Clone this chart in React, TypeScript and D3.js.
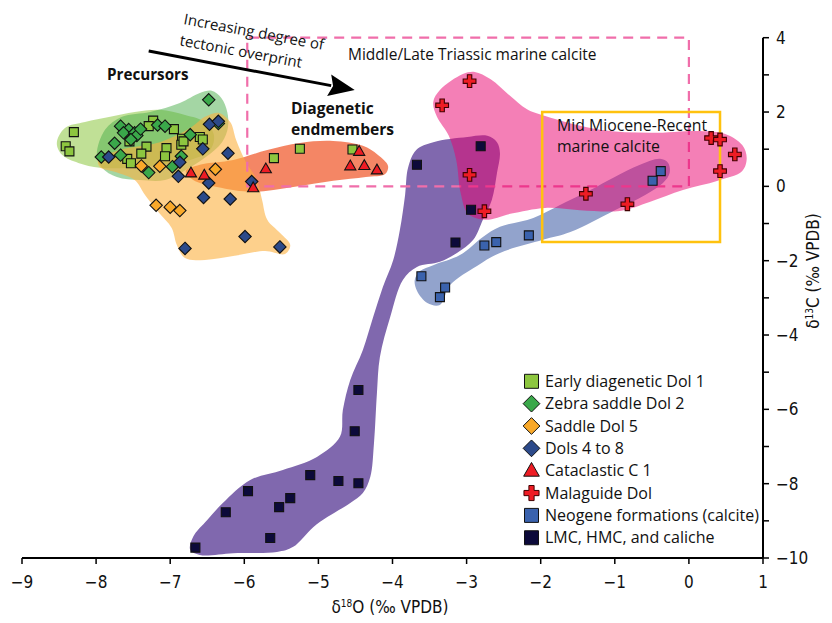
import React from 'react';
import * as d3 from 'd3';

const W = 832, H = 623;
const xTickValues = [-9, -8, -7, -6, -5, -4, -3, -2, -1, 0, 1];
const yTickValues = [4, 3, 2, 1, 0, -1, -2, -3, -4, -5, -6, -7, -8, -9, -10];
const yTickLabels = [4, 2, 0, -2, -4, -6, -8, -10];

// Point data [δ18O, δ13C]
const earlyDol1 = [[-8.30,1.46],[-8.41,1.08],[-8.36,0.94],[-7.23,1.77],[-7.29,1.62],[-6.95,1.54],[-7.55,1.21],[-7.32,1.07],[-7.39,0.88],[-7.58,0.74],[-7.53,0.62],[-7.05,1.03],[-7.07,0.81],[-6.84,1.28],[-6.85,1.12],[-6.82,1.21],[-6.60,1.33],[-6.56,1.26],[-5.25,1.01],[-5.60,0.76],[-4.54,0.99]];
const zebraDol2 = [[-7.67,1.62],[-7.56,1.53],[-7.63,1.44],[-7.48,1.44],[-7.45,1.37],[-7.40,1.54],[-7.53,1.26],[-7.75,1.16],[-7.93,0.79],[-7.67,0.84],[-7.29,0.37],[-7.17,1.65],[-7.07,1.62],[-6.73,1.39],[-6.48,2.33],[-6.35,1.69],[-6.85,0.81],[-6.97,0.53]];
const saddleDol5 = [[-7.39,0.55],[-7.14,0.54],[-6.39,0.46],[-7.19,-0.51],[-7.00,-0.56],[-6.87,-0.65]];
const dols4to8 = [[-7.83,0.79],[-6.87,0.65],[-6.89,0.27],[-6.56,1.01],[-6.47,1.67],[-6.35,1.75],[-6.22,0.89],[-6.48,0.09],[-6.55,-0.30],[-6.19,-0.34],[-5.90,0.13],[-5.99,-1.35],[-6.80,-1.67],[-5.52,-1.63]];
const cataclastic = [[-6.72,0.36],[-6.54,0.30],[-5.71,0.47],[-5.88,-0.04],[-4.45,0.94],[-4.57,0.55],[-4.38,0.56],[-4.21,0.44]];
const malaguide = [[-2.96,2.83],[-3.33,2.18],[-2.96,0.31],[-2.76,-0.67],[-1.39,-0.20],[-0.83,-0.48],[0.30,1.30],[0.42,1.26],[0.62,0.86],[0.42,0.41]];
const neogene = [[-3.61,-2.42],[-3.29,-2.72],[-3.36,-2.98],[-2.76,-1.59],[-2.60,-1.50],[-2.16,-1.32],[-0.38,0.41],[-0.49,0.15]];
const lmc = [[-2.81,1.08],[-3.67,0.58],[-2.94,-0.63],[-3.15,-1.51],[-4.46,-5.48],[-4.51,-6.59],[-5.11,-7.77],[-4.73,-7.93],[-4.46,-7.99],[-5.95,-8.20],[-5.38,-8.39],[-5.53,-8.63],[-6.25,-8.77],[-5.65,-9.46],[-6.66,-9.72]];

// Field outlines (data units)
const fieldDol1 = [[-8.53,1.17],[-8.42,1.57],[-8.15,1.73],[-7.81,1.87],[-7.48,2.00],[-7.14,2.06],[-6.80,1.92],[-6.53,1.73],[-6.41,1.38],[-6.46,0.98],[-6.73,0.71],[-7.14,0.58],[-7.54,0.50],[-7.95,0.50],[-8.24,0.63],[-8.46,0.85]];
const fieldZebra = [[-7.99,0.85],[-7.88,1.52],[-7.65,1.87],[-7.27,2.00],[-6.87,2.24],[-6.60,2.51],[-6.44,2.57],[-6.31,2.38],[-6.23,2.00],[-6.22,1.60],[-6.30,1.19],[-6.52,0.79],[-6.79,0.44],[-7.07,0.17],[-7.41,0.17],[-7.72,0.25],[-7.92,0.50]];
const fieldSaddle = [[-7.97,0.71],[-7.68,0.98],[-7.14,1.19],[-6.73,1.57],[-6.53,1.87],[-6.35,1.98],[-6.19,1.73],[-6.11,1.25],[-5.98,0.66],[-5.83,0.17],[-5.76,-0.37],[-5.69,-0.90],[-5.52,-1.25],[-5.38,-1.58],[-5.45,-1.82],[-5.72,-1.74],[-6.13,-1.87],[-6.53,-1.98],[-6.80,-1.93],[-6.91,-1.58],[-6.98,-1.12],[-7.16,-0.69],[-7.34,-0.23],[-7.48,0.17],[-7.75,0.39],[-7.95,0.52]];
const fieldCataclastic = [[-6.79,0.41],[-6.60,0.58],[-6.15,0.71],[-5.69,0.98],[-5.25,1.17],[-4.80,1.22],[-4.40,1.09],[-4.20,0.85],[-4.06,0.55],[-4.10,0.33],[-4.36,0.25],[-4.80,0.15],[-5.34,-0.02],[-5.88,-0.15],[-6.37,-0.02],[-6.69,0.17]];
const fieldMalaguide = [[-3.05,3.02],[-2.89,3.08],[-2.68,2.89],[-2.41,2.43],[-2.19,2.08],[-1.94,1.89],[-1.20,1.52],[-0.53,1.44],[0.15,1.49],[0.49,1.41],[0.72,1.11],[0.78,0.76],[0.72,0.41],[0.39,0.15],[-0.08,-0.10],[-0.53,-0.42],[-0.93,-0.66],[-1.47,-0.64],[-1.94,-0.58],[-2.41,-0.74],[-2.75,-0.90],[-2.98,-0.74],[-3.08,-0.18],[-3.14,0.71],[-3.24,1.36],[-3.40,1.87],[-3.45,2.27],[-3.36,2.59]];
const fieldLmc = [[-3.68,0.98],[-3.45,1.19],[-2.99,1.33],[-2.72,1.36],[-2.59,1.19],[-2.55,0.90],[-2.59,0.36],[-2.66,-0.37],[-2.78,-0.90],[-2.91,-1.44],[-3.13,-1.79],[-3.36,-2.03],[-3.67,-2.17],[-3.86,-2.52],[-4.03,-3.51],[-4.17,-4.59],[-4.21,-5.56],[-4.25,-6.91],[-4.30,-7.82],[-4.40,-8.25],[-4.57,-8.52],[-4.88,-8.90],[-5.07,-9.17],[-5.34,-9.70],[-5.56,-9.84],[-6.15,-9.87],[-6.60,-9.92],[-6.73,-9.78],[-6.69,-9.43],[-6.50,-8.98],[-6.29,-8.52],[-5.92,-7.90],[-5.48,-7.63],[-5.02,-7.28],[-4.71,-6.74],[-4.67,-6.02],[-4.57,-5.21],[-4.40,-4.40],[-4.26,-3.51],[-4.13,-2.71],[-3.99,-1.98],[-3.90,-1.17],[-3.83,-0.23],[-3.79,0.50]];
const fieldNeogene = [[-3.70,-2.52],[-3.63,-2.28],[-3.45,-2.12],[-3.09,-1.85],[-2.78,-1.36],[-2.55,-1.09],[-2.10,-0.85],[-1.74,-0.50],[-1.33,-0.10],[-1.02,0.23],[-0.66,0.58],[-0.39,0.74],[-0.28,0.63],[-0.26,0.36],[-0.35,0.09],[-0.59,-0.23],[-1.00,-0.64],[-1.60,-1.23],[-1.97,-1.44],[-2.55,-1.79],[-2.86,-2.14],[-3.22,-2.65],[-3.36,-3.19],[-3.53,-3.14],[-3.67,-2.81]];

const triassicBox = { x0: -5.96, x1: 0, y0: 0, y1: 4 };
const mioceneBox = { x0: -1.98, x1: 0.42, y0: -1.5, y1: 2 };
const arrowFrom = [-7.29, 3.64];
const arrowTo = [-4.51, 2.59];

const legendNames = ['Early diagenetic Dol 1', 'Zebra saddle Dol 2', 'Saddle Dol 5', 'Dols 4 to 8', 'Cataclastic C 1', 'Malaguide Dol', 'Neogene formations (calcite)', 'LMC, HMC, and caliche'];
const legendShapes = ['square', 'diamond', 'diamond', 'diamond', 'triangle', 'cross', 'square', 'square'];
const legendColors = ['#8dc63f', '#3aa84a', '#f9a92a', '#2c4a8a', '#ee1c24', '#ee1c24', '#3a62ad', '#0c0a3a'];

const x = d3.scaleLinear().domain([-9, 1]).range([22, 763]);
const y = d3.scaleLinear().domain([-10, 4]).range([558, 37.7]);

function shapePath(shape: string, cx: number, cy: number, s: number) {
  if (shape === 'square') {
    return `M${cx - s / 2},${cy - s / 2}h${s}v${s}h${-s}Z`;
  }
  if (shape === 'diamond') {
    const r = s * 0.62;
    return `M${cx},${cy - r}L${cx + r},${cy}L${cx},${cy + r}L${cx - r},${cy}Z`;
  }
  if (shape === 'triangle') {
    const w = s * 1.12, h = s * 0.98;
    return `M${cx},${cy - h * 0.6}L${cx + w / 2},${cy + h * 0.4}L${cx - w / 2},${cy + h * 0.4}Z`;
  }
  const a = s * 0.58, t = s * 0.2;
  return `M${cx - t},${cy - a}H${cx + t}V${cy - t}H${cx + a}V${cy + t}H${cx + t}V${cy + a}H${cx - t}V${cy + t}H${cx - a}V${cy - t}H${cx - t}Z`;
}

const blob = d3.line<number[]>().x(d => x(d[0])).y(d => y(d[1])).curve(d3.curveCatmullRomClosed.alpha(0.5));

const series = [
  { data: earlyDol1, shape: 'square', color: legendColors[0], size: 9 },
  { data: zebraDol2, shape: 'diamond', color: legendColors[1], size: 10 },
  { data: saddleDol5, shape: 'diamond', color: legendColors[2], size: 10 },
  { data: dols4to8, shape: 'diamond', color: legendColors[3], size: 10 },
  { data: cataclastic, shape: 'triangle', color: legendColors[4], size: 10 },
  { data: malaguide, shape: 'cross', color: legendColors[5], size: 11 },
  { data: neogene, shape: 'square', color: legendColors[6], size: 9 },
  { data: lmc, shape: 'square', color: legendColors[7], size: 9 },
];

const FONT = "'Open Sans', 'Noto Sans', sans-serif";
const AXFONT = "'Liberation Sans Narrow', 'DejaVu Sans Condensed', 'Roboto', sans-serif";

export default function App() {
  const boxPath = (b: any) => `M${x(b.x0)},${y(b.y0)}H${x(b.x1)}V${y(b.y1)}H${x(b.x0)}Z`;
  const ax0 = x(arrowFrom[0]), ay0 = y(arrowFrom[1]), ax1 = x(arrowTo[0]), ay1 = y(arrowTo[1]);
  const ang = Math.atan2(ay1 - ay0, ax1 - ax0);
  const headL = 26, headW = 11;
  const bx = ax1 - headL * Math.cos(ang), by = ay1 - headL * Math.sin(ang);
  const nx = -Math.sin(ang), ny = Math.cos(ang);
  const head = `M${ax1},${ay1}L${bx + nx * headW},${by + ny * headW}L${bx + 4 * Math.cos(ang)},${by + 4 * Math.sin(ang)}L${bx - nx * headW},${by - ny * headW}Z`;

  const legendY0 = 381.3, legendDy = 22.35;
  return (
    <svg width={W} height={H} style={{ position: 'absolute', left: 0, top: 0, background: '#fff' }} fontFamily={FONT}>
      {/* fields */}
      <path d={blob(fieldDol1)!} fill="#8dc63f" fillOpacity={0.55} />
      <path d={blob(fieldZebra)!} fill="#4aae4a" fillOpacity={0.5} />
      <path d={blob(fieldCataclastic)!} fill="#f26b43" fillOpacity={0.82} />
      <path d={blob(fieldSaddle)!} fill="#fcb040" fillOpacity={0.6} />
      <path d={blob(fieldLmc)!} fill="#8068ae" />
      <path d={blob(fieldNeogene)!} fill="#92a3cc" />
      {/* Triassic dashed box */}
      <path d={boxPath(triassicBox)} fill="none" stroke="#f06eaa" strokeWidth={2.2} strokeDasharray="10,7" />
      <path d={blob(fieldMalaguide)!} fill="#ea006e" fillOpacity={0.5} />
      {/* Miocene box */}
      <path d={boxPath(mioceneBox)} fill="none" stroke="#ffc20e" strokeWidth={2.5} />

      {/* points */}
      {series.map((s, i) => (
        <g key={i}>
          {s.data.map((d, j) => (
            <path key={j} d={shapePath(s.shape, x(d[0]), y(d[1]), s.size)} fill={s.color}
              stroke={s.shape === 'cross' ? '#400000' : '#111'} strokeWidth={1.1} strokeLinejoin="miter" />
          ))}
        </g>
      ))}

      {/* arrow */}
      <line x1={ax0} y1={ay0} x2={bx + 2 * Math.cos(ang)} y2={by + 2 * Math.sin(ang)} stroke="#000" strokeWidth={3} />
      <path d={head} fill="#000" />

      {/* annotations */}
      <text transform="translate(253,37) rotate(10.5)" textAnchor="middle" fontSize={15} fill="#111">Increasing degree of</text>
      <text transform="translate(240,56.5) rotate(10.5)" textAnchor="middle" fontSize={15} fill="#111">tectonic overprint</text>
      <text x={107} y={80} fontSize={15.2} fontWeight="bold" fill="#111">Precursors</text>
      <text x={291} y={114} fontSize={15.6} fontWeight="bold" fill="#111">Diagenetic</text>
      <text x={291} y={135} fontSize={15.6} fontWeight="bold" fill="#111">endmembers</text>
      <text x={348} y={59.5} fontSize={15.5} fill="#111">Middle/Late Triassic marine calcite</text>
      <text x={557} y={130.5} fontSize={15.8} fill="#111">Mid Miocene-Recent</text>
      <text x={557} y={151.5} fontSize={15.8} fill="#111">marine calcite</text>

      {/* axes */}
      <line x1={x(-9)} x2={x(1)} y1={y(-10)} y2={y(-10)} stroke="#000" strokeWidth={2} />
      <line x1={x(1)} x2={x(1)} y1={y(-10)} y2={y(4)} stroke="#000" strokeWidth={2} />
      {xTickValues.map(v => (
        <g key={v}>
          <line x1={x(v)} x2={x(v)} y1={y(-10)} y2={y(-10) + 6} stroke="#000" strokeWidth={1.5} />
          <text x={x(v)} y={588} textAnchor="middle" fontSize={17} fontFamily={AXFONT} fill="#111">{v < 0 ? `\u2212${-v}` : `${v}`}</text>
        </g>
      ))}
      {yTickValues.map(v => (
        <line key={v} x1={x(1)} x2={x(1) + 6} y1={y(v)} y2={y(v)} stroke="#000" strokeWidth={1.5} />
      ))}
      {yTickLabels.map(v => (
        <text key={v} x={776} y={y(v) + 6} fontSize={17} fontFamily={AXFONT} fill="#111">{v < 0 ? `\u2212${-v}` : `${v}`}</text>
      ))}
      <text x={390} y={613} textAnchor="middle" fontSize={17} fontFamily={AXFONT} fill="#111">
        δ<tspan fontSize={10} dy={-6}>18</tspan><tspan dy={6}>O (‰ VPDB)</tspan>
      </text>
      <text transform="translate(819,271) rotate(-90)" textAnchor="middle" fontSize={17} fontFamily={AXFONT} fill="#111">
        δ<tspan fontSize={10} dy={-6}>13</tspan><tspan dy={6}>C (‰ VPDB)</tspan>
      </text>

      {/* legend */}
      {legendNames.map((n, i) => {
        const cy = legendY0 + i * legendDy;
        const sz = legendShapes[i] === 'cross' ? 13 : legendShapes[i] === 'diamond' ? 13.5 : 14;
        return (
          <g key={n}>
            <path d={shapePath(legendShapes[i], 531.5, cy, sz)} fill={legendColors[i]}
              stroke={legendShapes[i] === 'cross' ? '#400000' : '#111'} strokeWidth={1} />
            <text x={545} y={cy + 5.5} fontSize={16} fill="#111">{n}</text>
          </g>
        );
      })}
    </svg>
  );
}
